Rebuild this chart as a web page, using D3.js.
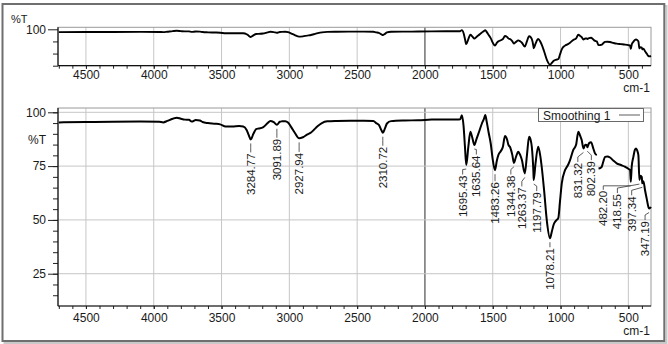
<!DOCTYPE html>
<html>
<head>
<meta charset="utf-8">
<script src="https://cdn.jsdelivr.net/npm/d3@7"></script>
<style>
  html, body { margin: 0; padding: 0; background: #fff; }
  svg { display: block; }
  text { font-family: "Liberation Sans", Arial, Helvetica, sans-serif; fill: #1a1a1a; }
</style>
</head>
<body>
<svg id="chart" width="668" height="344"></svg>
<script>
// IR spectrum, wavenumber (cm-1) vs transmittance (%T); null marks a break in the trace
const wavenumber = [
  4700, 4500, 4300, 4100, 3960, 3930, 3900, 3860, 3830, 3800, 3770, 3740, 3720, 3690, 3660, 3640,
  3600, 3550, 3510, 3470, 3420, 3370, 3340, 3315, 3300, 3284.77, 3265, 3245, 3225, 3195, 3160, 3140,
  3115, 3091.89, 3070, 3055, 3030, 3010, 2985, 2960, 2927.94, 2900, 2870, 2840, 2820, 2790, 2760, 2720,
  2650, 2550, 2450, 2380, 2360, 2340, 2320, 2310.72, 2295, 2280, 2250, 2150, 2050, 1950, 1850, 1760,
  1740, 1728, 1715, 1705, 1695.43, 1680, 1665, 1650, 1635.64, 1620, 1605, 1580, 1565, 1555, 1545, 1530,
  1515, 1500, 1483.26, 1470, 1458, 1440, 1425, 1410, 1395, 1385, 1370, 1355, 1344.38, 1330, 1312, 1298,
  1285, 1263.37, 1248, 1232, 1220, 1212, 1200, 1197.79, 1185, 1165, 1150, 1139, 1122, 1100, 1078.21, 1065,
  1050, 1030, 1016, 1005, 991, 967, 945, 930, 906, 885, 869, 855, 844, 831.32, 818, 807,
  802.39, 790, 775, 760, 745, 733, 726, 720, 705, 696, 685, 672, 655, 635, 610, 586,
  555, 524, 500, 487, 482.20, 475, 463, 452, 443, 435, 426, 418.55, 410, 401, 397.34, 389,
  377, 365, 352, 347.19, 340, 333
];
const transmittance = [
  95.3, 95.5, 95.6, 95.7, 95.6, 95.3, 96.0, 97.0, 97.5, 97.0, 96.6, 96.5, 95.7, 96.4, 96.2, 95.5,
  95.0, 94.7, 94.4, 93.4, 93.4, 93.6, 93.4, 91.8, 89.5, 87.4, 90.0, 92.2, 92.5, 93.0, 95.0, 96.0,
  95.4, 94.2, 95.6, 95.8, 95.9, 95.3, 93.0, 90.5, 87.9, 88.4, 89.6, 90.6, 91.8, 93.6, 95.0, 95.8,
  96.0, 96.1, 96.1, 96.0, 95.0, 94.2, 91.5, 90.5, 92.5, 94.8, 95.9, 96.2, 96.3, 96.6, 96.7, 96.7,
  96.8, 98.6, 93.5, 84.0, 75.5, 84.0, 91.0, 88.0, 84.8, 87.5, 90.2, 94.8, 97.0, 98.7, 95.8, 90.5,
  85.5, 78.0, 73.1, 77.5, 80.2, 82.0, 84.0, 89.0, 87.5, 85.0, 83.5, 80.0, 76.5, 79.0, 81.7, 80.2,
  77.8, 71.6, 80.0, 88.6, 87.0, 84.0, 72.0, 68.5, 76.0, 84.0, 80.0, 74.7, 64.2, 49.0, 41.5, 44.4,
  48.0, 49.9, 51.0, 58.0, 67.0, 73.1, 75.5, 77.8, 82.5, 85.0, 91.0, 89.0, 87.1, 83.2, 84.9, 84.8,
  83.8, 85.6, 86.1, 83.5, 80.8, 80.1, null, 73.9, 74.2, 74.7, 77.0, 79.3, 79.5, 79.0, 77.5, 76.3,
  75.5, 74.7, 73.8, 73.1, 67.7, 75.0, 79.3, 82.5, 83.2, 82.3, 80.1, 68.5, 70.5, 70.0, 67.0, 68.0,
  63.8, 60.0, 56.0, 55.3, 55.5, 56.0
];
// Labelled band positions (cm-1)
const peakWavenumbers = [
  3284.77, 3091.89, 2927.94, 2310.72, 1695.43, 1635.64, 1483.26, 1344.38, 1263.37,
  1197.79, 1078.21, 831.32, 802.39, 482.20, 418.55, 397.34, 347.19
];
const xTickValues = [4500, 4000, 3500, 3000, 2500, 2000, 1500, 1000, 500];
const mainYTicks = [100, 75, 50, 25];
const overviewYTicks = [100];
const legendLabel = "Smoothing 1";
const xUnit = "cm-1";
const yUnit = "%T";

// ---------------------------------------------------------------
const svg = d3.select("#chart");
const plotLeft = 58, plotRight = 651;
const x = d3.scaleLinear().domain([4706, 333]).range([plotLeft, plotRight]);

const points = wavenumber.map((w, i) => ({ w, t: transmittance[i] }));

// outer frame with a soft drop shadow
svg.append("rect").attr("x", 4.5).attr("y", 6).attr("width", 662).attr("height", 337)
  .attr("fill", "none").attr("stroke", "#c9c9c9").attr("stroke-width", 2);
svg.append("rect").attr("x", 2.5).attr("y", 4).attr("width", 661.8).attr("height", 337)
  .attr("fill", "#fff").attr("stroke", "#6f6f6f").attr("stroke-width", 2);

function drawPanel(opts) {
  const { top, bottom, yDomain, labelTicks, minorTicks, hGrid, yLabelPad } = opts;
  const y = d3.scaleLinear().domain(yDomain).range([bottom, top]);
  const g = svg.append("g");

  // vertical grid, 2000 cm-1 marker line drawn dark
  g.selectAll("line.vgrid").data(xTickValues).join("line")
    .attr("class", "vgrid")
    .attr("x1", d => x(d)).attr("x2", d => x(d))
    .attr("y1", top).attr("y2", bottom)
    .attr("stroke", d => d === 2000 ? "#2a2a2a" : "#c6c6c6")
    .attr("stroke-width", 1);

  // horizontal grid
  g.selectAll("line.hgrid").data(hGrid).join("line")
    .attr("class", "hgrid")
    .attr("x1", plotLeft).attr("x2", plotRight)
    .attr("y1", d => y(d)).attr("y2", d => y(d))
    .attr("stroke", "#c6c6c6").attr("stroke-width", 1);

  // plot frame
  g.append("rect").attr("x", plotLeft).attr("y", top)
    .attr("width", plotRight - plotLeft).attr("height", bottom - top)
    .attr("fill", "none").attr("stroke", "#9a9a9a").attr("stroke-width", 1);

  // y axis: labelled major ticks and short minor ticks
  const yMinor = g.append("g").attr("transform", `translate(${plotLeft},0)`)
    .call(d3.axisLeft(y).tickValues(minorTicks).tickSize(5).tickFormat(""));
  yMinor.select(".domain").remove();
  const yMajor = g.append("g").attr("transform", `translate(${plotLeft},0)`)
    .call(d3.axisLeft(y).tickValues(labelTicks).tickSize(10).tickPadding(2).tickFormat(d3.format("d")));
  yMajor.select(".domain").remove();
  yMajor.selectAll("text").attr("font-size", 12).attr("fill", "#1a1a1a");
  g.selectAll(".tick line").attr("stroke", "#222");
  g.append("line").attr("x1", plotLeft).attr("x2", plotLeft).attr("y1", top).attr("y2", bottom)
    .attr("stroke", "#111").attr("stroke-width", 1.2);

  // x axis: minor ticks every 100 cm-1, labels every 500
  const minorX = d3.range(4700, 300, -100);
  const xMinor = g.append("g").attr("transform", `translate(0,${bottom})`)
    .call(d3.axisBottom(x).tickValues(minorX).tickSize(3).tickFormat(""));
  xMinor.select(".domain").remove();
  xMinor.selectAll("line").attr("stroke", "#222");
  const xMajor = g.append("g").attr("transform", `translate(0,${bottom})`)
    .call(d3.axisBottom(x).tickValues(xTickValues).tickSize(3).tickPadding(yLabelPad).tickFormat(d3.format("d")));
  xMajor.select(".domain").remove();
  xMajor.selectAll("line").attr("stroke", "#222");
  xMajor.selectAll("text").attr("font-size", 12).attr("fill", "#1a1a1a");
  g.append("line").attr("x1", plotLeft).attr("x2", plotRight).attr("y1", bottom).attr("y2", bottom)
    .attr("stroke", "#111").attr("stroke-width", 1.2);

  return { g, y };
}

// ---------- overview panel ----------
const overview = drawPanel({
  top: 27.3, bottom: 65.7, yDomain: [40, 103.3],
  labelTicks: overviewYTicks, minorTicks: [80, 60, 40], hGrid: [],
  yLabelPad: 2
});
overview.g.append("path")
  .datum(points.filter(p => p.t !== null))
  .attr("fill", "none").attr("stroke", "#000").attr("stroke-width", 1.9)
  .attr("stroke-linejoin", "round")
  .attr("d", d3.line().x(p => x(p.w)).y(p => overview.y(p.t)).curve(d3.curveMonotoneX));
overview.g.append("text").attr("x", 11).attr("y", 22.5).attr("font-size", 11).text(yUnit);
overview.g.append("text").attr("x", 650).attr("y", 92).attr("text-anchor", "end")
  .attr("font-size", 12).text(xUnit);

// ---------- main (smoothed) panel ----------
const main = drawPanel({
  top: 108, bottom: 306, yDomain: [10, 102],
  labelTicks: mainYTicks, minorTicks: d3.range(15, 101, 5), hGrid: mainYTicks,
  yLabelPad: 4
});
main.g.append("path")
  .datum(points)
  .attr("fill", "none").attr("stroke", "#000").attr("stroke-width", 2)
  .attr("stroke-linejoin", "round")
  .attr("d", d3.line().defined(p => p.t !== null)
    .x(p => x(p.w)).y(p => main.y(p.t)).curve(d3.curveMonotoneX));
main.g.append("text").attr("x", 28).attr("y", 144.3).attr("font-size", 12).text(yUnit);
main.g.append("text").attr("x", 650).attr("y", 335).attr("text-anchor", "end")
  .attr("font-size", 12).text(xUnit);

// peak annotations: [dx, dy] nudge of each label from its band minimum
const labelNudge = [
  [0, 14], [0, 14], [0, 14.5], [0, 14], [-3.6, 10.5], [2, 10.5], [0, 12], [-3, 12.6], [-3, 14],
  [3, 12], [0, 10], [-5.6, 14.5], [4, 14], [-27.5, 9], [-22, 14], [-10.6, 13], [-4, 12.5]
];
const peakG = main.g.append("g");
peakWavenumbers.forEach((w, i) => {
  const t = transmittance[wavenumber.indexOf(w)];
  const px = x(w), py = main.y(t);
  const [dx, dy] = labelNudge[i];
  const tx = px + dx, ty = py + dy;
  peakG.append("path")
    .attr("d", `M${px},${py + 4}L${tx},${Math.max(py + 4, ty - 6)}L${tx},${ty - 1}`)
    .attr("fill", "none").attr("stroke", "#333").attr("stroke-width", 0.8);
  peakG.append("text")
    .attr("transform", `translate(${tx},${ty}) rotate(-90)`)
    .attr("text-anchor", "end").attr("dy", "0.35em")
    .attr("font-size", 11.5)
    .text(w.toFixed(2));
});

// legend
const lg = main.g.append("g");
lg.append("rect").attr("x", 538.5).attr("y", 108.5).attr("width", 105).attr("height", 13)
  .attr("fill", "#fff").attr("stroke", "#6a6a6a").attr("stroke-width", 1);
lg.append("text").attr("x", 543).attr("y", 119.5).attr("font-size", 12).text(legendLabel);
lg.append("line").attr("x1", 619).attr("x2", 640).attr("y1", 115).attr("y2", 115)
  .attr("stroke", "#777").attr("stroke-width", 1.2);
</script>
</body>
</html>
